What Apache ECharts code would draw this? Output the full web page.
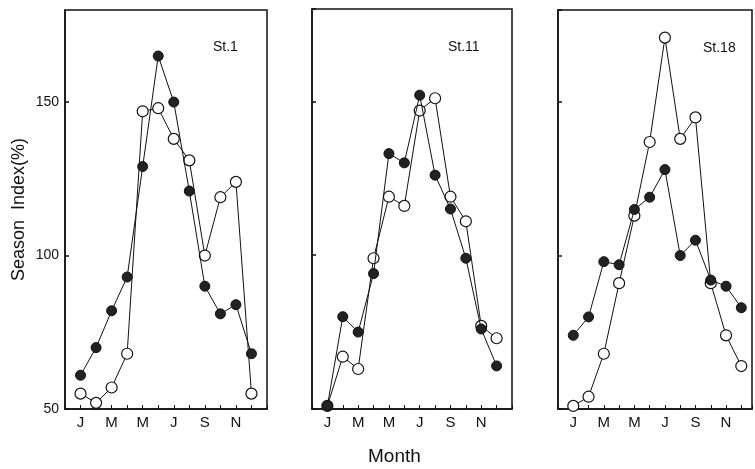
<!DOCTYPE html>
<html>
<head>
<meta charset="utf-8">
<script src="https://cdn.jsdelivr.net/npm/echarts@6/dist/echarts.min.js"></script>
<style>
  html, body { margin: 0; padding: 0; background: #fff; }
  #chart { width: 755px; height: 469px; }
</style>
</head>
<body>
<div id="chart"></div>
<script>
// months Jan..Dec, only every other one is labelled
const months = ['Jan','Feb','Mar','Apr','May','Jun','Jul','Aug','Sep','Oct','Nov','Dec']
const monthLabels = ['J','','M','','M','','J','','S','','N','']
const stations = ['St.1','St.11','St.18']
const yTicks = [50, 100, 150]

// season index (%), filled circles / open circles
const st1Filled = [61, 70, 82, 93, 129, 165, 150, 121, 90, 81, 84, 68]
const st1Open   = [55, 52, 57, 68, 147, 148, 138, 131, 100, 119, 124, 55]
const st11Filled = [51, 80, 75, 94, 133, 130, 152, 126, 115, 99, 76, 64]
const st11Open   = [51, 67, 63, 99, 119, 116, 147, 151, 119, 111, 77, 73]
const st18Filled = [74, 80, 98, 97, 115, 119, 128, 100, 105, 92, 90, 83]
const st18Open   = [51, 54, 68, 91, 113, 137, 171, 138, 145, 91, 74, 64]

const FONT = 'Liberation Sans Narrow, Liberation Sans, sans-serif'
var chart = echarts.init(document.getElementById('chart'))

// the third panel runs off the right edge of the picture
var grids = [
  {left: 65, top: 10, width: 202, height: 399},
  {left: 312, top: 9, width: 200, height: 400},
  {left: 558, top: 10, width: 197, height: 399}
]
var xMax = [13, 13, 12.7]

function pairs(arr){
  return arr.map(function(v, i){ return [i + 1, v] })
}

var xAxes = [], yAxes = [], series = []
var data = [[st1Filled, st1Open], [st11Filled, st11Open], [st18Filled, st18Open]]
for (var g = 0; g < 3; g++) {
  grids[g].show = true
  grids[g].borderColor = '#111'
  grids[g].borderWidth = 1.5
  xAxes.push({
    gridIndex: g, type: 'value', min: 0, max: xMax[g], interval: 1,
    axisLine: {lineStyle: {color: '#111', width: 1.5}},
    axisTick: {inside: true, length: 4, lineStyle: {color: '#111'}},
    splitLine: {show: false},
    axisLabel: {
      fontFamily: FONT, fontSize: 15, color: '#111', margin: 6,
      formatter: function(v){ return (v >= 1 && v <= 12) ? monthLabels[v - 1] : '' }
    }
  })
  yAxes.push({
    gridIndex: g, type: 'value', min: 50, max: 180, interval: 50,
    name: g == 0 ? 'Season  Index(%)' : '',
    nameLocation: 'middle', nameGap: 37,
    nameTextStyle: {fontFamily: 'Liberation Sans', fontSize: 18, color: '#111'},
    axisLine: {lineStyle: {color: '#111', width: 1.5}},
    axisTick: {inside: true, length: 4, lineStyle: {color: '#111', width: 1.5}},
    splitLine: {show: false},
    axisLabel: {
      show: g == 0, showMaxLabel: false, margin: 6,
      fontFamily: 'Liberation Sans', fontSize: 14, color: '#111',
      formatter: function(v){ return yTicks.indexOf(v) >= 0 ? String(v) : '' }
    }
  })
  series.push({
    type: 'line', xAxisIndex: g, yAxisIndex: g, data: pairs(data[g][0]),
    symbol: 'circle', symbolSize: 10,
    lineStyle: {color: '#111', width: 1},
    itemStyle: {color: '#222', borderColor: '#111', borderWidth: 1},
    z: 3
  })
  series.push({
    type: 'line', xAxisIndex: g, yAxisIndex: g, data: pairs(data[g][1]),
    symbol: 'circle', symbolSize: 11, showAllSymbol: true,
    lineStyle: {color: '#111', width: 1},
    itemStyle: {color: '#fff', borderColor: '#111', borderWidth: 1.2},
    z: 2
  })
}

var labelPos = [[213, 40], [448, 40], [703, 41]]
var texts = stations.map(function(s, i){
  return {type: 'text', left: labelPos[i][0], top: labelPos[i][1],
    style: {text: s, fontFamily: 'Liberation Sans', fontSize: 14, fill: '#111'}}
})
texts.push({type: 'text', left: 368, top: 447,
  style: {text: 'Month', fontFamily: 'Liberation Sans', fontSize: 19, fill: '#111'}})

var option = {
  animation: false,
  backgroundColor: '#fff',
  grid: grids,
  xAxis: xAxes,
  yAxis: yAxes,
  series: series,
  graphic: texts
}
chart.setOption(option)
</script>
</body>
</html>
